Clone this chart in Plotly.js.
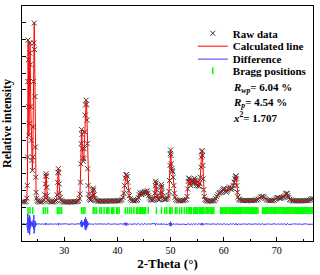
<!DOCTYPE html>
<html>
<head>
<meta charset="utf-8">
<script src="https://cdn.plot.ly/plotly-3.0.1.min.js"></script>
<style>html,body{margin:0;padding:0;background:#fff;}#chart{width:320px;height:275px;}</style>
</head>
<body>
<div id="chart"></div>
<script>
// Observed pattern (2-Theta in degrees, intensity in arbitrary counts)
const obsTheta = [
  22.05, 22.3, 22.55, 22.8, 22.95, 23.05, 23.1, 23.15, 23.2, 23.25,
  23.3, 23.35, 23.4, 23.45, 23.5, 23.56, 23.62, 23.7, 23.8, 23.9,
  24.0, 24.08, 24.15, 24.22, 24.28, 24.35, 24.42, 24.48, 24.55, 24.62,
  24.7, 24.8, 24.9, 25.05, 25.3, 25.55, 25.8, 26.05, 26.2, 26.35,
  26.45, 26.52, 26.57, 26.63, 26.7, 26.78, 26.9, 27.05, 27.3, 27.55,
  27.8, 28.05, 28.3, 28.5, 28.65, 28.75, 28.82, 28.88, 28.95, 29.03,
  29.12, 29.22, 29.35, 29.5, 29.75, 30.0, 30.25, 30.5, 30.75, 31.0,
  31.25, 31.5, 31.75, 32.0, 32.25, 32.5, 32.7, 32.85, 32.95, 33.05,
  33.12, 33.19, 33.26, 33.33, 33.4, 33.5, 33.6, 33.68, 33.76, 33.85,
  33.94, 34.03, 34.12, 34.2, 34.27, 34.34, 34.41, 34.48, 34.56, 34.66,
  34.8, 35.0, 35.15, 35.28, 35.38, 35.45, 35.52, 35.62, 35.75, 35.9,
  36.1, 36.35, 36.6, 36.85, 37.1, 37.35, 37.6, 37.85, 38.1, 38.35,
  38.6, 38.85, 39.1, 39.35, 39.6, 39.85, 40.1, 40.35, 40.6, 40.85,
  41.05, 41.2, 41.35, 41.5, 41.62, 41.72, 41.83, 41.95, 42.1, 42.25,
  42.4, 42.6, 42.85, 43.1, 43.35, 43.6, 43.8, 43.95, 44.1, 44.25,
  44.4, 44.55, 44.7, 44.85, 45.0, 45.15, 45.3, 45.45, 45.6, 45.75,
  45.9, 46.05, 46.2, 46.4, 46.6, 46.8, 46.95, 47.05, 47.13, 47.2,
  47.27, 47.35, 47.45, 47.58, 47.75, 47.9, 48.02, 48.12, 48.2, 48.28,
  48.35, 48.43, 48.53, 48.68, 48.85, 49.05, 49.25, 49.45, 49.6, 49.72,
  49.82, 49.9, 49.96, 50.01, 50.07, 50.13, 50.2, 50.3, 50.4, 50.5,
  50.6, 50.72, 50.85, 51.0, 51.2, 51.45, 51.7, 51.95, 52.2, 52.45,
  52.7, 52.95, 53.1, 53.22, 53.33, 53.43, 53.55, 53.68, 53.8, 53.92,
  54.05, 54.18, 54.3, 54.42, 54.54, 54.66, 54.78, 54.9, 55.02, 55.14,
  55.26, 55.38, 55.5, 55.62, 55.72, 55.8, 55.88, 55.94, 56.0, 56.07,
  56.15, 56.24, 56.35, 56.48, 56.65, 56.85, 57.1, 57.35, 57.6, 57.85,
  58.1, 58.3, 58.5, 58.7, 58.9, 59.1, 59.3, 59.5, 59.7, 59.85,
  60.0, 60.15, 60.3, 60.5, 60.7, 60.9, 61.1, 61.28, 61.45, 61.6,
  61.8, 61.98, 62.12, 62.22, 62.3, 62.38, 62.47, 62.57, 62.7, 62.85,
  63.0, 63.25, 63.5, 63.75, 64.0, 64.25, 64.5, 64.75, 65.0, 65.25,
  65.5, 65.75, 66.0, 66.25, 66.5, 66.75, 67.0, 67.2, 67.4, 67.6,
  67.8, 68.0, 68.25, 68.5, 68.75, 69.0, 69.25, 69.5, 69.75, 69.95,
  70.15, 70.35, 70.55, 70.75, 70.95, 71.15, 71.35, 71.55, 71.7, 71.82,
  71.93, 72.05, 72.2, 72.4, 72.6, 72.85, 73.1, 73.35, 73.6, 73.85,
  74.1, 74.35, 74.6, 74.85, 75.1, 75.35, 75.6, 75.85, 76.1, 76.35,
  76.55, 76.8
];
const obsIntensity = [
  2330, 2340, 2325, 2360, 2550, 3300, 5000, 9500, 11970, 10800,
  8000, 6300, 7000, 9500, 11200, 11790, 10500, 8000, 6000, 4800,
  4200, 5000, 6800, 9500, 11800, 12985, 11400, 8600, 5600, 3800,
  2900, 2550, 2420, 2360, 2330, 2320, 2335, 2380, 2450, 2750,
  3400, 3880, 4010, 3850, 3200, 2700, 2450, 2380, 2340, 2325,
  2330, 2340, 2370, 2430, 2750, 3500, 4100, 4310, 4050, 3400,
  2850, 2580, 2450, 2380, 2340, 2325, 2320, 2330, 2320, 2335,
  2325, 2330, 2340, 2335, 2345, 2360, 2400, 2520, 2800, 3500,
  4600, 5800, 6640, 6350, 5500, 4950, 4750, 4900, 5500, 6500,
  7500, 8100, 8390, 8150, 7200, 5800, 4300, 3300, 2800, 2550,
  2460, 2430, 2480, 2700, 3000, 3150, 3050, 2750, 2530, 2440,
  2400, 2380, 2375, 2370, 2385, 2375, 2380, 2370, 2385, 2375,
  2390, 2380, 2385, 2390, 2380, 2395, 2390, 2400, 2420, 2470,
  2600, 2850, 3300, 3750, 3930, 3970, 3850, 3500, 3000, 2700,
  2520, 2440, 2400, 2395, 2405, 2420, 2470, 2580, 2760, 2880,
  2820, 2760, 2880, 2830, 2900, 2960, 2850, 2920, 3000, 2850,
  2700, 2560, 2480, 2440, 2430, 2460, 2560, 2850, 3300, 3560,
  3450, 3050, 2700, 2520, 2450, 2460, 2580, 2850, 3200, 3370,
  3250, 2900, 2650, 2520, 2470, 2480, 2500, 2560, 2680, 2950,
  3600, 4500, 5200, 5420, 5100, 4600, 4300, 4200, 4130, 3800,
  3300, 2850, 2600, 2480, 2420, 2400, 2390, 2395, 2400, 2410,
  2430, 2480, 2650, 3100, 3550, 3750, 3680, 3450, 3300, 3500,
  3620, 3550, 3450, 3600, 3730, 3620, 3400, 3300, 3560, 3520,
  3300, 3250, 3420, 3800, 4400, 5000, 5340, 5380, 5100, 4500,
  3700, 3050, 2650, 2480, 2420, 2390, 2380, 2375, 2385, 2380,
  2400, 2430, 2520, 2650, 2760, 2850, 2880, 2900, 2960, 3050,
  3140, 3080, 2970, 2900, 2980, 3120, 3220, 3130, 3050, 3150,
  3300, 3500, 3700, 3830, 3880, 3700, 3300, 2900, 2620, 2500,
  2450, 2420, 2410, 2400, 2410, 2420, 2400, 2410, 2420, 2400,
  2410, 2420, 2430, 2450, 2490, 2560, 2620, 2650, 2660, 2610,
  2540, 2470, 2430, 2410, 2400, 2405, 2410, 2430, 2500, 2560,
  2590, 2560, 2540, 2550, 2580, 2610, 2640, 2700, 2800, 2850,
  2830, 2700, 2580, 2480, 2440, 2410, 2400, 2390, 2395, 2390,
  2400, 2395, 2390, 2400, 2395, 2400, 2405, 2410, 2430, 2470,
  2510, 2530
];
// Calculated profile follows the observed one at this scale
const calcTheta = obsTheta;
const calcIntensity = obsIntensity;

// Difference curve (offset below the pattern)
const diffTheta = [
  22.05, 22.4, 22.75, 22.9, 23.0, 23.05, 23.1, 23.15, 23.2, 23.25,
  23.3, 23.35, 23.4, 23.45, 23.5, 23.55, 23.6, 23.65, 23.72, 23.8,
  23.9, 24.0, 24.08, 24.15, 24.22, 24.28, 24.33, 24.38, 24.44, 24.5,
  24.58, 24.66, 24.75, 24.85, 25.0, 25.3, 25.6, 25.9, 26.2, 26.45,
  26.55, 26.65, 26.8, 27.1, 27.4, 27.7, 28.0, 28.3, 28.6, 28.8,
  28.9, 29.0, 29.2, 29.5, 29.8, 30.1, 30.4, 30.7, 31.0, 31.3,
  31.6, 31.9, 32.2, 32.5, 32.8, 33.0, 33.1, 33.2, 33.28, 33.36,
  33.45, 33.55, 33.65, 33.75, 33.85, 33.93, 34.0, 34.08, 34.15, 34.22,
  34.3, 34.38, 34.46, 34.55, 34.7, 34.9, 35.2, 35.45, 35.7, 36.0,
  36.3, 36.6, 36.9, 37.2, 37.5, 37.8, 38.1, 38.4, 38.7, 39.0,
  39.3, 39.6, 39.9, 40.2, 40.5, 40.8, 41.1, 41.3, 41.45, 41.6,
  41.75, 41.9, 42.05, 42.25, 42.5, 42.8, 43.1, 43.4, 43.7, 44.0,
  44.3, 44.6, 44.9, 45.2, 45.5, 45.8, 46.1, 46.4, 46.7, 47.0,
  47.15, 47.3, 47.5, 47.8, 48.1, 48.25, 48.4, 48.7, 49.0, 49.3,
  49.6, 49.8, 49.92, 50.0, 50.08, 50.2, 50.35, 50.5, 50.7, 51.0,
  51.3, 51.6, 51.9, 52.2, 52.5, 52.8, 53.1, 53.35, 53.6, 53.85,
  54.1, 54.35, 54.6, 54.85, 55.1, 55.35, 55.6, 55.8, 55.92, 56.05,
  56.2, 56.45, 56.75, 57.05, 57.35, 57.65, 57.95, 58.25, 58.55, 58.85,
  59.15, 59.45, 59.75, 60.05, 60.35, 60.65, 60.95, 61.25, 61.55, 61.85,
  62.1, 62.3, 62.5, 62.75, 63.05, 63.35, 63.65, 63.95, 64.25, 64.55,
  64.85, 65.15, 65.45, 65.75, 66.05, 66.35, 66.65, 66.95, 67.25, 67.55,
  67.85, 68.15, 68.45, 68.75, 69.05, 69.35, 69.65, 69.95, 70.25, 70.55,
  70.85, 71.15, 71.45, 71.75, 71.95, 72.2, 72.5, 72.8, 73.1, 73.4,
  73.7, 74.0, 74.3, 74.6, 74.9, 75.2, 75.5, 75.8, 76.1, 76.4,
  76.8
];
const diffValue = [
  1010, 1030, 990, 1060, 900, 1400, 650, 1620, 480, 1350,
  800, 1200, 700, 1550, 380, 1450, 750, 1250, 850, 1150,
  950, 1100, 850, 1250, 700, 1550, 450, 1400, 700, 1200,
  850, 1080, 960, 1040, 1000, 1025, 995, 1020, 990, 1060,
  950, 1050, 1000, 1020, 995, 1015, 1000, 1020, 990, 1060,
  940, 1040, 1005, 1020, 995, 1010, 1025, 995, 1015, 1000,
  1020, 995, 1010, 1000, 1030, 980, 1150, 850, 1250, 820,
  1100, 950, 1150, 900, 1300, 700, 1420, 650, 1300, 780,
  1200, 880, 1100, 960, 1030, 1000, 1020, 980, 1030, 1005,
  1015, 995, 1020, 1000, 1025, 995, 1010, 1030, 995, 1015,
  1000, 1020, 995, 1010, 1000, 1025, 980, 1080, 930, 1100,
  920, 1060, 970, 1030, 995, 1015, 1000, 1020, 990, 1050,
  960, 1040, 970, 1050, 980, 1030, 1000, 1020, 995, 1050,
  940, 1060, 990, 1015, 980, 1060, 960, 1020, 995, 1010,
  990, 1080, 900, 1150, 880, 1060, 960, 1040, 990, 1015,
  1000, 1020, 990, 1010, 995, 1020, 980, 1050, 960, 1030,
  975, 1040, 985, 1030, 970, 1050, 960, 1070, 930, 1060,
  970, 1020, 995, 1015, 1000, 1010, 990, 1020, 985, 1030,
  990, 1025, 975, 1040, 985, 1020, 970, 1035, 990, 1040,
  960, 1060, 950, 1020, 995, 1015, 1000, 1020, 990, 1010,
  1025, 995, 1010, 1000, 1020, 990, 1030, 975, 1035, 990,
  1015, 1000, 1020, 995, 1010, 1000, 1025, 980, 1030, 990,
  1020, 995, 1030, 960, 1050, 985, 1015, 1000, 1020, 995,
  1010, 1000, 1020, 990, 1015, 1000, 1025, 995, 1010, 1005,
  1000
];

// Bragg reflection positions (2-Theta, degrees)
const braggTheta = [
  23.18, 23.56, 24.07,
  26.06, 26.43, 26.86,
  28.7, 29.0, 29.2, 29.5,
  33.27, 33.57, 33.89,
  35.45, 35.77, 36.08,
  36.7, 37.0, 37.5, 37.96, 38.15, 38.4, 38.9, 39.1, 39.33, 39.84, 40.0, 40.33,
  41.5, 41.9, 42.3, 42.66, 43.1, 43.6, 43.8, 44.1, 44.3, 44.5, 44.75, 44.97, 45.15, 45.3, 45.8,
  47.35,
  48.3, 48.9, 49.3, 49.8, 50.0, 50.3, 50.9, 51.2, 51.7, 52.1, 52.6, 53.0,
  53.3, 53.5, 53.7, 53.9, 54.3, 54.5, 54.7, 54.9, 55.1, 55.4, 55.6, 55.8, 56.0,
  56.2, 56.5, 56.7, 57.0, 57.2, 57.45, 57.7, 57.9, 58.15,
  59.4, 59.6, 59.8, 60.05, 60.25, 60.4, 60.6, 60.8, 61.05, 61.2, 61.4, 61.6, 61.85,
  62.0, 62.2, 62.4, 62.6, 62.8, 63.0, 63.2, 63.4, 63.6, 63.85, 64.0, 64.2, 64.4,
  64.6, 64.8, 65.05, 65.2, 65.4, 65.6, 65.8, 66.0, 66.2, 66.45, 67.3, 67.5,
  67.7, 67.9, 68.1, 68.3, 68.5, 68.7, 68.9, 69.1, 69.3, 69.55, 69.75, 70.0,
  70.2, 70.4, 70.6, 70.8, 71.0, 71.2, 71.45, 71.65, 71.85, 72.05, 72.25, 72.45,
  72.65, 72.85, 73.05, 73.25, 73.45, 73.65, 73.85, 74.05, 74.25, 74.45, 74.65,
  74.85, 75.05, 75.25, 75.45, 75.65, 75.85, 76.05, 76.25, 76.45, 76.65
];

// Legend labels and statistics text
const seriesNames = ['Raw data', 'Calculated line', 'Difference', 'Bragg positions'];
const statLabels = [
  '<b><i>R</i><sub><i>wp</i></sub>= 6.04 %</b>',
  '<b><i>R</i><sub><i>p</i></sub>= 4.54 %</b>',
  '<b><i>x</i><sup>2</sup>= 1.707</b>'
];

const BRAGG_LEVEL = 1810;
const serif = 'Liberation Serif, Times New Roman, serif';

const traces = [
  {
    type: 'scatter', mode: 'markers', name: seriesNames[0],
    x: obsTheta, y: obsIntensity, legend: 'legend',
    marker: {symbol: 'x-thin-open', size: 5, color: '#3a3a3a', line: {color: '#3a3a3a', width: 1}},
    hoverinfo: 'skip'
  },
  {
    type: 'scatter', mode: 'lines', name: seriesNames[1],
    x: calcTheta, y: calcIntensity, legend: 'legend2',
    line: {color: '#ff0000', width: 1},
    hoverinfo: 'skip'
  },
  {
    type: 'scatter', mode: 'lines', name: seriesNames[2],
    x: diffTheta, y: diffValue, legend: 'legend3',
    line: {color: '#3b3bff', width: 1},
    hoverinfo: 'skip'
  },
  {
    type: 'scatter', mode: 'markers', name: seriesNames[3],
    x: braggTheta, y: braggTheta.map(() => BRAGG_LEVEL), legend: 'legend4',
    marker: {symbol: 'line-ns-open', size: 5, color: '#00ff00', line: {color: '#00ff00', width: 1.5}},
    hoverinfo: 'skip'
  }
];

const legendBase = {
  x: 0.587, xanchor: 'left', yanchor: 'middle',
  bgcolor: 'rgba(0,0,0,0)', borderwidth: 0,
  font: {family: serif, size: 11, color: '#000', weight: 'bold'}
};

const layout = {
  width: 320, height: 275,
  margin: {l: 22, r: 7, t: 6, b: 34, pad: 0},
  paper_bgcolor: '#fff', plot_bgcolor: '#fff',
  font: {family: serif, color: '#000', size: 10},
  showlegend: true,
  legend: Object.assign({}, legendBase, {y: 0.884}),
  legend2: Object.assign({}, legendBase, {y: 0.829}),
  legend3: Object.assign({}, legendBase, {y: 0.774}),
  legend4: Object.assign({}, legendBase, {y: 0.724}),
  xaxis: {
    range: [22.05, 76.8], tick0: 0, dtick: 10,
    ticks: 'inside', ticklen: 4, tickwidth: 1, tickcolor: '#000',
    showline: true, linecolor: '#000', linewidth: 1, mirror: true,
    showgrid: false, zeroline: false,
    tickfont: {family: serif, size: 10, color: '#000'},
    minor: {dtick: 5, ticks: 'inside', ticklen: 2, tickcolor: '#000', showgrid: false},
    title: {text: '2-Theta (°)', font: {family: serif, size: 13, color: '#000', weight: 'bold'}, standoff: 3}
  },
  yaxis: {
    range: [0, 14000], tick0: 0, dtick: 1000,
    ticks: 'inside', ticklen: 4, tickwidth: 1, tickcolor: '#000',
    showticklabels: false,
    showline: true, linecolor: '#000', linewidth: 1, mirror: true,
    showgrid: false, zeroline: false,
    title: {text: 'Relative intensity', font: {family: serif, size: 12, color: '#000', weight: 'bold'}, standoff: 6}
  },
  annotations: statLabels.map((t, i) => ({
    xref: 'paper', yref: 'paper', x: 0.717, y: [0.650, 0.586, 0.527][i],
    xanchor: 'left', yanchor: 'middle', showarrow: false, text: t,
    font: {family: serif, size: 11, color: '#000'}
  }))
};

Plotly.newPlot('chart', traces, layout, {staticPlot: true, displayModeBar: false});
</script>
</body>
</html>
